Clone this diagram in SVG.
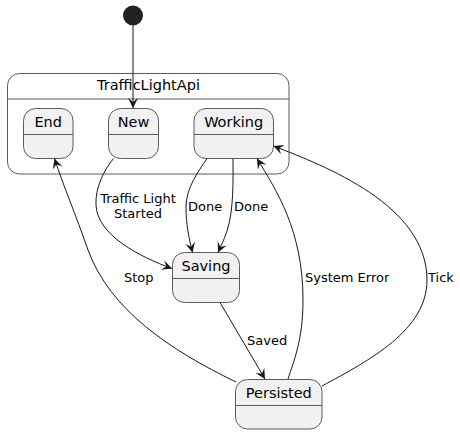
<svg xmlns="http://www.w3.org/2000/svg" width="460" height="434" viewBox="0 0 460 434">
<style>
.st{fill:#F1F1F1;stroke:#5B5B5B;stroke-width:1}
.sep{stroke:#5B5B5B;stroke-width:1}
.name{font-family:"DejaVu Sans",sans-serif;font-size:14.5px;fill:#000;text-anchor:middle}
.lbl{font-family:"DejaVu Sans",sans-serif;font-size:13px;fill:#000}
.e{fill:none;stroke:#181818;stroke-width:1}
</style>
<defs>
<marker id="ah" markerUnits="userSpaceOnUse" markerWidth="12" markerHeight="12" refX="10" refY="5" orient="auto">
<path d="M0,0 L10,5 L0,10 L4,5 Z" fill="#181818"/>
</marker>
</defs>
<rect width="460" height="434" fill="#FFFFFF"/>
<g id="initial"><circle cx="133" cy="15.5" r="10" fill="#222222"/></g>
<g id="TrafficLightApi">
<rect x="7.5" y="73.5" width="281.5" height="100.5" rx="12" fill="none" stroke="#5B5B5B"/>
<line class="sep" x1="7.5" y1="99" x2="289" y2="99"/>
<text class="name" x="148.5" y="90">TrafficLightApi</text>
</g>
<g id="End">
<rect class="st" x="23.5" y="108.5" width="49.5" height="50" rx="12"/>
<line class="sep" x1="23.5" y1="134.5" x2="73" y2="134.5"/>
<text class="name" x="48.2" y="127">End</text>
</g>
<g id="New">
<rect class="st" x="108.5" y="108.5" width="50" height="50" rx="12"/>
<line class="sep" x1="108.5" y1="134.5" x2="158.5" y2="134.5"/>
<text class="name" x="133.5" y="127">New</text>
</g>
<g id="Working">
<rect class="st" x="194" y="108.5" width="79.5" height="50" rx="12"/>
<line class="sep" x1="194" y1="134.5" x2="273.5" y2="134.5"/>
<text class="name" x="233.7" y="127">Working</text>
</g>
<g id="Saving">
<rect class="st" x="172.5" y="252.5" width="67" height="50" rx="12"/>
<line class="sep" x1="172.5" y1="278.5" x2="239.5" y2="278.5"/>
<text class="name" x="206" y="271">Saving</text>
</g>
<g id="Persisted">
<rect class="st" x="235.5" y="379.5" width="86.5" height="49.5" rx="12"/>
<line class="sep" x1="235.5" y1="405.5" x2="322" y2="405.5"/>
<text class="name" x="278.8" y="398">Persisted</text>
</g>
<g id="connectors">
<path class="e" marker-end="url(#ah)" d="M133,25.5 L133,108"/>
<path class="e" marker-end="url(#ah)" d="M113.5,158.5 C104,170 95,188 96,205 C97,235 140,257 172,268.5"/>
<path class="e" marker-end="url(#ah)" d="M207,158.5 C198,172 186,188 186,207 C186,225 189,238 192.5,252.5"/>
<path class="e" marker-end="url(#ah)" d="M233,158.5 C233,178 234,210 227,231 C224,240 221,246 218,252.5"/>
<path class="e" marker-end="url(#ah)" d="M288,379 C294,360 303,340 303,300 C303,230 276,190 257,158.5"/>
<path class="e" marker-end="url(#ah)" d="M322,386 C370,360 427,330 427,280 C427,205 325,166 273.5,146"/>
<path class="e" marker-end="url(#ah)" d="M236,382 C170,350 110,310 88,250 C76,215 63,185 54.5,158.5"/>
<path class="e" marker-end="url(#ah)" d="M220,302.5 L265,379"/>
<text class="lbl" x="138" y="203" text-anchor="middle">Traffic Light</text>
<text class="lbl" x="138" y="218" text-anchor="middle">Started</text>
<text class="lbl" x="188" y="211">Done</text>
<text class="lbl" x="234" y="211">Done</text>
<text class="lbl" x="305" y="282">System Error</text>
<text class="lbl" x="428" y="282">Tick</text>
<text class="lbl" x="124" y="282">Stop</text>
<text class="lbl" x="247" y="345">Saved</text>
</g>
</svg>
